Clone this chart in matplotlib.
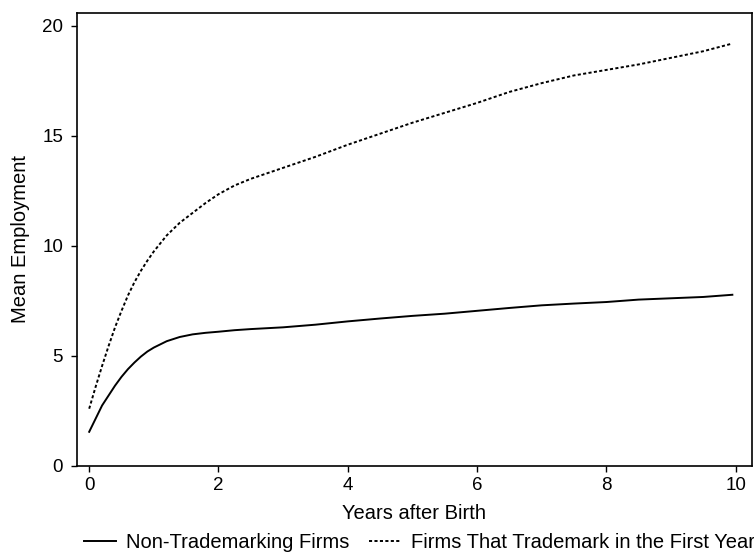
import matplotlib.pyplot as plt

plt.rcParams['font.family'] = ['Liberation Sans', 'DejaVu Sans']

# mean employment by years since birth
years = [0, 0.1, 0.2, 0.3, 0.4, 0.5, 0.6, 0.7, 0.8, 0.9, 1.0, 1.2, 1.4, 1.6,
         1.8, 2.0, 2.25, 2.5, 2.75, 3.0, 3.5, 4.0, 4.5, 5.0, 5.5, 6.0, 6.5,
         7.0, 7.5, 8.0, 8.5, 9.0, 9.5, 9.95]
non_tm = [1.55, 2.15, 2.75, 3.2, 3.65, 4.05, 4.4, 4.7, 4.97, 5.2, 5.38, 5.67,
          5.86, 5.98, 6.05, 6.1, 6.17, 6.22, 6.26, 6.3, 6.42, 6.57, 6.7,
          6.82, 6.92, 7.05, 7.18, 7.3, 7.38, 7.45, 7.56, 7.62, 7.68, 7.78]
tm_first = [2.6, 3.6, 4.55, 5.45, 6.3, 7.05, 7.75, 8.35, 8.87, 9.33, 9.75,
            10.48, 11.05, 11.5, 11.95, 12.35, 12.75, 13.05, 13.3, 13.55,
            14.05, 14.6, 15.1, 15.6, 16.05, 16.5, 17.0, 17.4, 17.75, 18.0,
            18.25, 18.55, 18.85, 19.2]

x_ticks = [0, 2, 4, 6, 8, 10]
y_ticks = [0, 5, 10, 15, 20]

fig = plt.figure(figsize=(7.54, 5.54), dpi=100)
ax = fig.add_axes([0.102, 0.159, 0.895, 0.818])

ax.plot(years, non_tm, color='black', lw=1.4, label='Non-Trademarking Firms')
ax.plot(years, tm_first, color='black', lw=1.4, linestyle=(0, (1.6, 1.2)),
        label='Firms That Trademark in the First Year')

ax.set_xlim(-0.19, 10.25)
ax.set_ylim(0, 20.6)
ax.set_xticks(x_ticks)
ax.set_yticks(y_ticks)
ax.tick_params(labelsize=13.5, length=4, width=1)
ax.tick_params(axis='x', pad=4)
ax.tick_params(axis='y', pad=6)
ax.set_xlabel('Years after Birth', fontsize=14.5, labelpad=7)
ax.set_ylabel('Mean Employment', fontsize=14.5, labelpad=9)
for s in ax.spines.values():
    s.set_linewidth(1.2)

fig.legend(loc='lower left', bbox_to_anchor=(0.088, -0.03), ncol=2,
           frameon=False, fontsize=14.5, handlelength=1.55,
           handletextpad=0.5, columnspacing=1.0)

fig.savefig('out.png', dpi=100)
